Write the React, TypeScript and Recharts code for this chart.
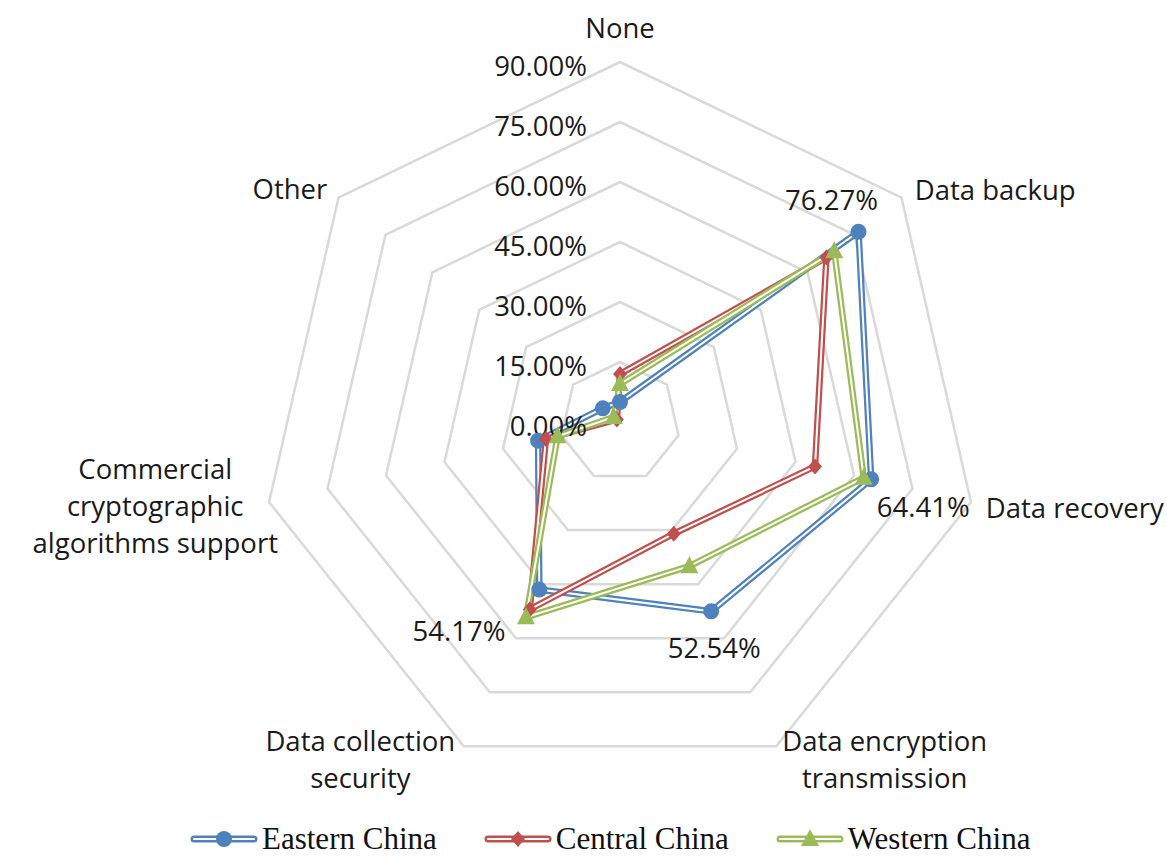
import React from "react"
import {
  RadarChart,
  Radar,
  PolarGrid,
  PolarAngleAxis,
  PolarRadiusAxis,
  Legend,
} from "recharts"

const CATEGORIES = [
  "None",
  "Data backup",
  "Data recovery",
  "Data encryption transmission",
  "Data collection security",
  "Commercial cryptographic algorithms support",
  "Other",
]
const EASTERN = [5, 76.27, 64.41, 52.54, 46.5, 21, 5.5]
const CENTRAL = [12, 66, 50, 31, 52, 19, 1]
const WESTERN = [9.5, 68.5, 62.5, 40, 54.17, 16, 2]
const RADIUS_TICKS = [0, 15, 30, 45, 60, 75, 90]

const data = CATEGORIES.map((name, i) => ({
  name,
  east: EASTERN[i],
  central: CENTRAL[i],
  west: WESTERN[i],
}))

const SANS = "'Open Sans', 'Liberation Sans', sans-serif"
const SERIF = "'Liberation Serif', 'Times New Roman', serif"
const FS = 27.5

// how each category label is broken and nudged off its vertex
const LABEL_LAYOUT: any = {
  0: { lines: ["None"], anchor: "middle", dx: 0, dy: -27 },
  1: { lines: ["Data backup"], anchor: "start", dx: 7, dy: -3 },
  2: { lines: ["Data recovery"], anchor: "start", dx: 7, dy: 4 },
  3: { lines: ["Data encryption", "transmission"], anchor: "middle", dx: 105, dy: 5 },
  4: { lines: ["Data collection", "security"], anchor: "middle", dx: -100, dy: 5 },
  5: {
    lines: ["Commercial", "cryptographic", "algorithms support"],
    anchor: "middle",
    dx: -106,
    dy: 2,
  },
  6: { lines: ["Other"], anchor: "end", dx: -5, dy: -4 },
}

const AngleTick = ({ x, y, index }: any) => {
  const l = LABEL_LAYOUT[index]
  if (!l) return null
  const gap = 37
  const start = y + l.dy - ((l.lines.length - 1) * gap) / 2
  return (
    <g>
      {l.lines.map((s: string, i: number) => (
        <text
          key={i}
          x={x + l.dx}
          y={start + i * gap}
          textAnchor={l.anchor}
          dominantBaseline="central"
          fontSize={FS}
          fontFamily={SANS}
          fill="#1a1a1a"
        >
          {s}
        </text>
      ))}
    </g>
  )
}

const RadiusTick = ({ x, y, payload }: any) => (
  <text
    x={x - 33}
    y={y + 3}
    textAnchor="end"
    dominantBaseline="central"
    fontSize={FS}
    fontFamily={SANS}
    fill="#1a1a1a"
  >
    {Number(payload.value).toFixed(2)}%
  </text>
)

const Marker = ({ shape, cx, cy, color }: any) => {
  if (shape === "circle") return <circle cx={cx} cy={cy} r={8} fill={color} />
  if (shape === "diamond")
    return (
      <path
        d={`M${cx},${cy - 8}L${cx + 7},${cy}L${cx},${cy + 8}L${cx - 7},${cy}Z`}
        fill={color}
      />
    )
  return (
    <path
      d={`M${cx},${cy - 10}L${cx + 9},${cy + 7}L${cx - 9},${cy + 7}Z`}
      fill={color}
    />
  )
}

const SERIES = [
  { key: "east", name: "Eastern China", color: "#4F81BD", shape: "circle" },
  { key: "central", name: "Central China", color: "#C0504D", shape: "diamond" },
  { key: "west", name: "Western China", color: "#9BBB59", shape: "triangle" },
]

// value labels shown next to a few points: series key -> index -> offset
const VALUE_LABELS: any = {
  east: { 1: [-27, -32], 2: [52, 27], 3: [3, 36] },
  west: { 4: [-67, 13] },
}

const makeDot = (s: any) => (props: any) => {
  const { cx, cy, index, payload } = props
  const lab = VALUE_LABELS[s.key] && VALUE_LABELS[s.key][index]
  const v = payload && payload.value !== undefined ? payload.value : data[index][s.key as "east"]
  return (
    <g key={`${s.key}-${index}`}>
      <Marker shape={s.shape} cx={cx} cy={cy} color={s.color} />
      {lab && (
        <text
          x={cx + lab[0]}
          y={cy + lab[1]}
          textAnchor="middle"
          dominantBaseline="central"
          fontSize={FS}
          fontFamily={SANS}
          fill="#1a1a1a"
        >
          {Number(Array.isArray(v) ? v[1] : v).toFixed(2)}%
        </text>
      )}
    </g>
  )
}

const LegendIcon = ({ color, shape }: any) => (
  <svg width={68} height={20} style={{ display: "block" }}>
    <line x1={4} y1={10} x2={64} y2={10} stroke={color} strokeWidth={7} strokeLinecap="round" />
    <line x1={4} y1={10} x2={64} y2={10} stroke="#fff" strokeWidth={2.2} strokeLinecap="round" />
    <Marker shape={shape} cx={34} cy={10} color={color} />
  </svg>
)

const renderLegend = () => (
  <div style={{ display: "flex", alignItems: "center", height: 31 }}>
    {SERIES.map((s, i) => (
      <div
        key={s.key}
        style={{ display: "flex", alignItems: "center", marginLeft: i === 0 ? 0 : 47 }}
      >
        <LegendIcon color={s.color} shape={s.shape} />
        <span
          style={{
            fontFamily: SERIF,
            fontSize: 31,
            lineHeight: "31px",
            color: "#111",
            marginLeft: 4,
            whiteSpace: "nowrap",
          }}
        >
          {s.name}
        </span>
      </div>
    ))}
  </div>
)

export default function App() {
  return (
    <div
      style={{
        position: "absolute",
        left: 0,
        top: 0,
        width: 1167,
        height: 857,
        background: "#fff",
        overflow: "hidden",
      }}
    >
      <RadarChart
        width={1167}
        height={857}
        data={data}
        cx={620}
        cy={422}
        outerRadius={360}
        margin={{ top: 0, right: 0, bottom: 0, left: 0 }}
      >
        <PolarGrid gridType="polygon" radialLines={false} stroke="#D9D9D9" strokeWidth={2.5} />
        <PolarAngleAxis dataKey="name" tick={<AngleTick />} tickLine={false} axisLine={false} />
        <PolarRadiusAxis
          angle={90}
          domain={[0, 90]}
          tickCount={RADIUS_TICKS.length}
          ticks={RADIUS_TICKS as any}
          axisLine={false}
          tickLine={false}
          tick={<RadiusTick />}
        />
        {SERIES.flatMap((s) => [
          <Radar
            key={`${s.key}-outer`}
            dataKey={s.key}
            stroke={s.color}
            strokeWidth={6.5}
            fill="none"
            fillOpacity={0}
            dot={false}
            legendType="none"
            isAnimationActive={false}
          />,
          <Radar
            key={`${s.key}-inner`}
            dataKey={s.key}
            name={s.name}
            stroke="#fff"
            strokeWidth={2}
            fill="none"
            fillOpacity={0}
            dot={makeDot(s)}
            isAnimationActive={false}
          />,
        ])}
        <Legend
          content={renderLegend}
          wrapperStyle={{ left: 190, top: 823, bottom: "auto", width: "auto" }}
        />
      </RadarChart>
    </div>
  )
}
